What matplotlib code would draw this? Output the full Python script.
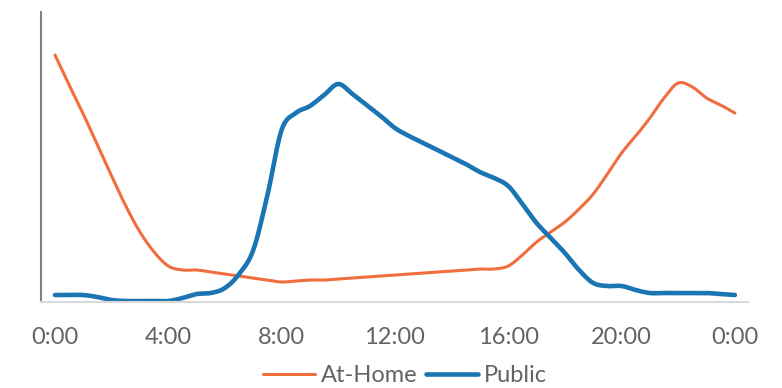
import numpy as np
import matplotlib.pyplot as plt

# charging sessions per half hour, 0:00 .. 24:00
hours = np.arange(0, 24.5, 0.5)
at_home = [247, 217, 188, 157, 126, 96, 70, 50, 36, 32,
           32, 30, 28, 26, 24, 22, 20, 21, 22, 22,
           23, 24, 25, 26, 27, 28, 29, 30, 31, 32,
           33, 33, 36, 47, 60, 70, 80, 93, 108, 128,
           149, 166, 184, 204, 219, 215, 204, 197, 189]
public = [7, 7, 7, 5, 2, 1, 1, 1, 1, 4,
          8, 9, 14, 28, 52, 107, 172, 189, 196, 207,
          218, 208, 197, 186, 174, 166, 159, 152, 145, 138,
          130, 124, 116, 98, 79, 64, 49, 32, 19, 16,
          16, 12, 9, 9, 9, 9, 9, 8, 7]
tick_hours = [0, 4, 8, 12, 16, 20, 24]
tick_labels = ['0:00', '4:00', '8:00', '12:00', '16:00', '20:00', '0:00']


def smooth(x, y, n=12):
    # Catmull-Rom curve through the points, like a "smoothed line" chart
    x = np.asarray(x, float)
    y = np.asarray(y, float)
    px = np.concatenate([[2 * x[0] - x[1]], x, [2 * x[-1] - x[-2]]])
    py = np.concatenate([[2 * y[0] - y[1]], y, [2 * y[-1] - y[-2]]])
    t = np.linspace(0, 1, n, endpoint=False)[:, None]
    xs, ys = [], []
    for i in range(1, len(px) - 2):
        for arr, out in ((px, xs), (py, ys)):
            p0, p1, p2, p3 = arr[i - 1], arr[i], arr[i + 1], arr[i + 2]
            seg = 0.5 * (2 * p1 + (-p0 + p2) * t
                         + (2 * p0 - 5 * p1 + 4 * p2 - p3) * t ** 2
                         + (-p0 + 3 * p1 - 3 * p2 + p3) * t ** 3)
            out.append(seg.ravel())
    xs.append([x[-1]])
    ys.append([y[-1]])
    return np.concatenate(xs), np.concatenate(ys)


plt.rcParams['font.family'] = ['Lato', 'DejaVu Sans']

fig = plt.figure(figsize=(7.82, 3.88), dpi=100)
ax = fig.add_axes([0.0524, 0.2216, 0.904, 0.7474])

ax.plot(*smooth(hours, at_home), color='#F26D3D', lw=2.2,
        solid_capstyle='round', label='At-Home')
ax.plot(*smooth(hours, public), color='#1B75B3', lw=3.3,
        solid_capstyle='round', label='Public')

ax.set_xlim(-0.494, 24.46)
ax.set_ylim(0, 290)
ax.set_xticks(tick_hours)
ax.set_xticklabels(tick_labels)
ax.set_yticks([])
ax.tick_params(axis='x', length=0, pad=18, labelsize=17, labelcolor='#636363')

for side in ('top', 'right'):
    ax.spines[side].set_visible(False)
ax.spines['left'].set_color('#808080')
ax.spines['left'].set_linewidth(1.5)
ax.spines['bottom'].set_color('#D9D9D9')
ax.spines['bottom'].set_linewidth(1.5)

leg = fig.legend(loc='center', bbox_to_anchor=(0.518, 0.031), ncol=2,
                 frameon=False, fontsize=17, handlelength=2.2,
                 handletextpad=0.25, columnspacing=0.35, borderpad=0)
for text in leg.get_texts():
    text.set_color('#636363')

fig.savefig('out.png', dpi=100)
